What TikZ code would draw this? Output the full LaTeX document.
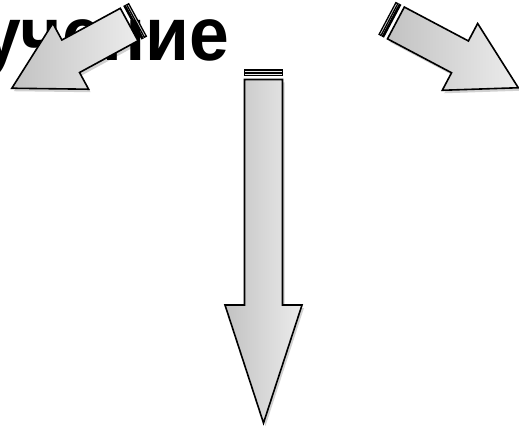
\documentclass[tikz,border=0pt]{standalone}
\usepackage{fontspec}
\usepackage{graphicx}
\setmainfont{Liberation Sans}
\usetikzlibrary{shadows}
\definecolor{arrdark}{RGB}{194,194,194}
\definecolor{arrlight}{RGB}{236,236,236}
\tikzset{
  arrowbody/.style={draw=black, line width=1.6pt, line join=miter,
    left color=arrdark, right color=arrlight,
    drop shadow={shadow xshift=2pt, shadow yshift=-3pt, opacity=0.18, fill=black}},
  stripebox/.style={draw=black, line width=1.3pt, fill=arrlight},
  bigword/.style={font=\fontsize{76}{80}\selectfont\bfseries, inner sep=0pt},
  pics/blockarr/.style n args={5}{code={
    % #1 shaft half width, #2 shaft length, #3 head half width, #4 head length, #5 shading angle
    \path[arrowbody, shading angle=#5] (9.5,-#1) -- (#2,-#1) -- (#2,-#3) -- ({#2+#4},0)
      -- (#2,#3) -- (#2,#1) -- (9.5,#1) -- cycle;
    \path[stripebox] (0,-#1) rectangle (2.2,#1);
    \path[stripebox] (3.8,-#1) rectangle (5.2,#1);
  }}
}
\begin{document}
\begin{tikzpicture}[x=1pt, y=-1pt]
  \useasboundingbox (0,0) rectangle (519,433);
  \clip (0,0) rectangle (519,433);
  \node[bigword, anchor=base east] (word) at (229,61) {\scalebox{0.94}[1]{учение}};
  \coordinate (leftTail) at (137.5,20);
  \coordinate (rightTail) at (387.5,18.5);
  \coordinate (downTail) at (263.5,70);
  \pic[shift={(leftTail)}, rotate=208.5] {blockarr={18.5}{76}{37.5}{67}{90}};
  \pic[shift={(rightTail)}, rotate=-27.9] {blockarr={18}{82}{37.8}{66}{90}};
  \pic[shift={(downTail)}, rotate=-90] {blockarr={19}{235}{38.5}{118}{90}};
\end{tikzpicture}
\end{document}
